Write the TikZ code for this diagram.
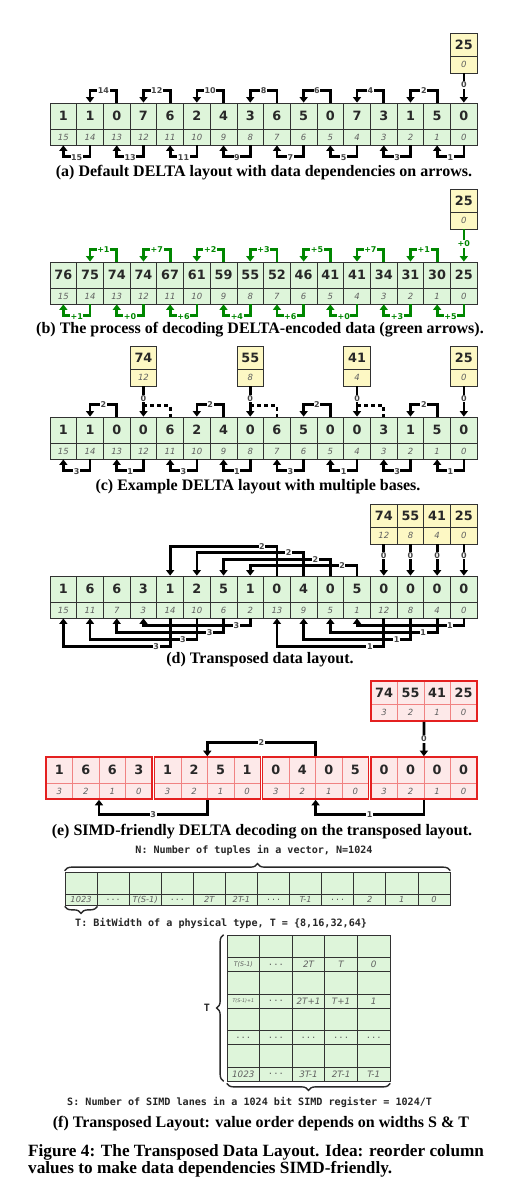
\documentclass[tikz,border=0pt]{standalone}
\usepackage{fontspec}
\usetikzlibrary{arrows.meta,decorations.pathreplacing}
\setmainfont{Liberation Serif}
\newfontfamily\fsans{DejaVu Sans}[ItalicFont={DejaVu Sans Oblique},BoldFont={DejaVu Sans Bold}]
\newfontfamily\fmono{DejaVu Sans Mono}[BoldFont={DejaVu Sans Mono Bold}]
\definecolor{cgreen}{RGB}{222,245,218}
\definecolor{cyellow}{RGB}{253,248,196}
\definecolor{cpink}{RGB}{253,233,233}
\definecolor{cred}{RGB}{228,32,32}
\definecolor{credl}{RGB}{240,130,130}
\definecolor{cborder}{RGB}{50,50,50}
\definecolor{agreen}{RGB}{0,135,0}
\definecolor{tgray}{RGB}{95,95,95}
\definecolor{lgray}{RGB}{40,40,40}
\definecolor{labgray}{RGB}{70,70,70}
\newcommand\Dots{{\fmono\upshape ...}}
\newcommand\TSa{{\fontsize{6.3}{7}\selectfont T(S-1)}}
\newcommand\TSb{{\fontsize{4.8}{6}\selectfont T(S-1)+1}}
\tikzset{
 cellbase/.style={draw=cborder, line width=0.8pt, inner sep=0pt, minimum width=26.7pt},
 vc/.style={cellbase, fill=cgreen, minimum height=26pt, font=\fsans\bfseries\fontsize{12.8}{14}\selectfont, text=lgray},
 ic/.style={cellbase, fill=cgreen, minimum height=16pt, font=\fsans\itshape\fontsize{8.5}{10}\selectfont, text=tgray},
 bv/.style={vc, fill=cyellow, minimum height=23pt},
 bi/.style={ic, fill=cyellow, minimum height=17pt},
 rv/.style={vc, draw=credl, fill=cpink, minimum width=26.5pt, line width=0.6pt},
 ri/.style={ic, draw=credl, fill=cpink, minimum width=26.5pt, line width=0.6pt},
 grp/.style={draw=cred, line width=1.6pt, minimum width=106pt, minimum height=42pt, inner sep=0pt},
 arr/.style={line width=2.7pt, draw=black, -{Triangle[length=5.5pt,width=8pt]}},
 garr/.style={arr, draw=agreen},
 dsh/.style={line width=2.7pt, draw=black, dash pattern=on 4pt off 3pt},
 lab/.style={fill=white, inner sep=0.6pt, font=\fsans\bfseries\fontsize{8}{9}\selectfont, text=labgray},
 blab/.style={lab, yshift=-1.5pt},
 glab/.style={lab, text=agreen},
 gblab/.style={glab, yshift=-1.5pt},
 captx/.style={font=\bfseries\fontsize{16}{18}\selectfont, inner sep=0pt},
 figcap/.style={font=\bfseries\fontsize{17.2}{19}\selectfont, inner sep=0pt, anchor=west},
 fe/.style={draw=cborder, line width=0.7pt, fill=cgreen, inner sep=0pt, minimum width=32.08pt, minimum height=22pt},
 fl/.style={fe, minimum height=11pt, font=\fsans\itshape\fontsize{8.3}{9}\selectfont, text=tgray},
 ge/.style={fe, minimum width=32.6pt, minimum height=22.5pt},
 gl/.style={ge, minimum height=14pt, font=\fsans\itshape\fontsize{8.8}{10}\selectfont, text=tgray},
 brc/.style={decorate, decoration={brace, amplitude=7pt}, line width=1.4pt, draw=lgray},
 mtxt/.style={font=\fmono\bfseries\fontsize{10.1}{12}\selectfont, text=black!85, inner sep=0pt},
}
\newcommand\MkArr[4]{%
 \foreach \vx [count=\px from 0] in {#3} {\node[vc] (#1v\px) at ({50+26.7*(\px+0.5)},{#2+13}) {\vx};}
 \foreach \vx [count=\px from 0] in {#4} {\node[ic] (#1i\px) at ({50+26.7*(\px+0.5)},{#2+34}) {\vx};}
}
\newcommand\MkBase[5]{%
 \node[bv] (#1) at ({50+26.7*(#2+0.5)},{#3+11.5}) {#4};
 \node[bi] (#1-i) at ({50+26.7*(#2+0.5)},{#3+31.5}) {#5};
}
\newcommand\MkGrp[2]{%
 \foreach \vx [count=\jx from 0] in {#2} {\node[rv] (e#1v\jx) at ({46+108.3*(#1-1)+26.5*(\jx+0.5)},770) {\vx};}
 \foreach \vx [count=\jx from 0] in {3,2,1,0} {\node[ri] (e#1i\jx) at ({46+108.3*(#1-1)+26.5*(\jx+0.5)},791) {\vx};}
 \node[grp] (eg#1) at ({46+108.3*(#1-1)+53},778) {};
}
\begin{document}
\begin{tikzpicture}[x=1pt,y=-1pt]
\fill[white] (0,0) rectangle (507,1194);
\useasboundingbox (0,0) rectangle (507,1194);

% ---------------- (a)
\MkBase{ab}{15}{33}{25}{0}
\MkArr{a}{103}{1,1,0,7,6,2,4,3,6,5,0,7,3,1,5,0}{15,14,13,12,11,10,9,8,7,6,5,4,3,2,1,0}
\foreach \px in {2,4,...,14} {
  \pgfmathtruncatemacro\pq{\px-1}
  \pgfmathtruncatemacro\lb{16-\px}
  \draw[arr] (av\px.north) -- ++(0,-12) -| node[lab,pos=0.25]{\lb} (av\pq.north);
}
\foreach \px in {1,3,...,15} {
  \pgfmathtruncatemacro\pq{\px-1}
  \pgfmathtruncatemacro\lb{16-\px}
  \draw[arr] (ai\px.south) -- ++(0,11) -| node[blab,pos=0.25]{\lb} (ai\pq.south);
}
\draw[arr] (ab-i.south) -- node[lab,pos=0.4]{0} (av15.north);
\node[captx] (capa) at (264,173) {(a) Default DELTA layout with data dependencies on arrows.};

% ---------------- (b)
\MkBase{bb}{15}{189}{25}{0}
\MkArr{b}{262}{76,75,74,74,67,61,59,55,52,46,41,41,34,31,30,25}{15,14,13,12,11,10,9,8,7,6,5,4,3,2,1,0}
\foreach \px/\lb in {2/+1,4/+7,6/+2,8/+3,10/+5,12/+7,14/+1} {
  \pgfmathtruncatemacro\pq{\px-1}
  \draw[garr] (bv\px.north) -- ++(0,-12) -| node[glab,pos=0.25]{\lb} (bv\pq.north);
}
\foreach \px/\lb in {1/+1,3/+0,5/+6,7/+4,9/+6,11/+0,13/+3,15/+5} {
  \pgfmathtruncatemacro\pq{\px-1}
  \draw[garr] (bi\px.south) -- ++(0,11) -| node[gblab,pos=0.25]{\lb} (bi\pq.south);
}
\draw[garr] (bb-i.south) -- node[glab,pos=0.45]{+0} (bv15.north);
\node[captx] (capb) at (260,330) {(b) The process of decoding DELTA-encoded data (green arrows).};

% ---------------- (c)
\MkBase{cb3}{3}{346}{74}{12}
\MkBase{cb7}{7}{346}{55}{8}
\MkBase{cb11}{11}{346}{41}{4}
\MkBase{cb15}{15}{346}{25}{0}
\MkArr{c}{417}{1,1,0,0,6,2,4,0,6,5,0,0,3,1,5,0}{15,14,13,12,11,10,9,8,7,6,5,4,3,2,1,0}
\foreach \px in {2,6,10,14} {
  \pgfmathtruncatemacro\pq{\px-1}
  \draw[arr] (cv\px.north) -- ++(0,-12) -| node[lab,pos=0.25]{2} (cv\pq.north);
}
\foreach \px in {3,7,11} {
  \pgfmathtruncatemacro\pq{\px+1}
  \draw[dsh] (cv\px.north) ++(0,-11) -| (cv\pq.north);
}
\foreach \px in {3,7,11,15} {
  \draw[arr] (cb\px-i.south) -- node[lab,pos=0.4]{0} (cv\px.north);
}
\foreach \px/\lb in {1/3,3/1,5/3,7/1,9/3,11/1,13/3,15/1} {
  \pgfmathtruncatemacro\pq{\px-1}
  \draw[arr] (ci\px.south) -- ++(0,11) -| node[blab,pos=0.25]{\lb} (ci\pq.south);
}
\node[captx] (capc) at (258,487) {(c) Example DELTA layout with multiple bases.};

% ---------------- (d)
\MkBase{db12}{12}{504}{74}{12}
\MkBase{db13}{13}{504}{55}{8}
\MkBase{db14}{14}{504}{41}{4}
\MkBase{db15}{15}{504}{25}{0}
\MkArr{d}{576}{1,6,6,3,1,2,5,1,0,4,0,5,0,0,0,0}{15,11,7,3,14,10,6,2,13,9,5,1,12,8,4,0}
\foreach \px/\hx in {8/29,9/23,10/16,11/10} {
  \pgfmathtruncatemacro\pq{\px-4}
  \draw[arr] (dv\px.north) -- ++(0,-\hx) -| node[lab,pos=0.07]{2} (dv\pq.north);
}
\foreach \px/\hx/\lb in {4/28/3,5/21/3,6/14/3,7/7/3,12/28/1,13/21/1,14/14/1,15/7/1} {
  \pgfmathtruncatemacro\pq{\px-4}
  \draw[arr] (di\px.south) -- ++(0,\hx) -| node[lab,pos=0.065]{\lb} (di\pq.south);
}
\foreach \px in {12,13,14,15} {
  \draw[arr] (db\px-i.south) -- node[lab,pos=0.35]{0} (dv\px.north);
}
\node[captx] (capd) at (260,660) {(d) Transposed data layout.};

% ---------------- (e)
\foreach \vx [count=\jx from 0] in {74,55,41,25} {\node[rv, minimum height=23pt] (ebv\jx) at ({370.9+26.5*(\jx+0.5)},692.5) {\vx};}
\foreach \vx [count=\jx from 0] in {3,2,1,0} {\node[ri, minimum height=17pt] (ebi\jx) at ({370.9+26.5*(\jx+0.5)},712.5) {\vx};}
\node[grp, minimum height=40pt] (eb) at (423.9,701) {};
\MkGrp{1}{1,6,6,3}
\MkGrp{2}{1,2,5,1}
\MkGrp{3}{0,4,0,5}
\MkGrp{4}{0,0,0,0}
\draw[arr] (eb.south) -- node[lab]{0} (eg4.north);
\draw[arr] (eg3.north) -- ++(0,-14) -| node[lab,pos=0.25]{2} (eg2.north);
\draw[arr] (eg2.south) -- ++(0,15) -| node[lab,pos=0.25]{3} (eg1.south);
\draw[arr] (eg4.south) -- ++(0,15) -| node[lab,pos=0.25]{1} (eg3.south);
\node[captx] (cape) at (262,832) {(e) SIMD-friendly DELTA decoding on the transposed layout.};

% ---------------- (f)
\node[mtxt] (ntxt) at (254,850) {N: Number of tuples in a vector, N=1024};
\foreach \lb [count=\px from 0] in {1023,\Dots,T(S-1),\Dots,2T,2T-1,\Dots,T-1,\Dots,2,1,0} {
  \node[fe] (fe\px) at ({65+32.08*(\px+0.5)},883) {};
  \node[fl] (fl\px) at ({65+32.08*(\px+0.5)},899.5) {\lb};
}
\draw[brc] ([yshift=1pt]fe0.north west) -- ([yshift=1pt]fe11.north east);
\draw[brc] ([yshift=-1pt]fl0.south east) -- ([yshift=-1pt]fl0.south west);
\node[mtxt, anchor=west] (ttxt) at (75,923) {T: BitWidth of a physical type, T = \{8,16,32,64\}};

\foreach \lb [count=\cx from 0] in {\TSa,\Dots,2T,T,0} {
  \node[ge] (g0e\cx) at ({227+32.6*(\cx+0.5)},946.25) {};
  \node[gl] (g0l\cx) at ({227+32.6*(\cx+0.5)},964.5) {\lb};
}
\foreach \lb [count=\cx from 0] in {\TSb,\Dots,2T+1,T+1,1} {
  \node[ge] (g1e\cx) at ({227+32.6*(\cx+0.5)},982.75) {};
  \node[gl] (g1l\cx) at ({227+32.6*(\cx+0.5)},1001) {\lb};
}
\foreach \lb [count=\cx from 0] in {\Dots,\Dots,\Dots,\Dots,\Dots} {
  \node[ge] (g2e\cx) at ({227+32.6*(\cx+0.5)},1019.25) {};
  \node[gl] (g2l\cx) at ({227+32.6*(\cx+0.5)},1037.5) {\lb};
}
\foreach \lb [count=\cx from 0] in {1023,\Dots,3T-1,2T-1,T-1} {
  \node[ge] (g3e\cx) at ({227+32.6*(\cx+0.5)},1055.75) {};
  \node[gl] (g3l\cx) at ({227+32.6*(\cx+0.5)},1074) {\lb};
}
\draw[brc] ([xshift=-3pt]g3l0.south west) -- ([xshift=-3pt]g0e0.north west);
\node[mtxt] (tlab) at (207,1008) {T};
\draw[brc] ([yshift=-2pt]g3l4.south east) -- ([yshift=-2pt]g3l0.south west);
\node[mtxt, anchor=west] (stxt) at (67,1102) {S: Number of SIMD lanes in a 1024 bit SIMD register = 1024/T};
\node[captx] (capf) at (261,1124) {(f) Transposed Layout: value order depends on widths S \& T};

\node[figcap] (fc1) at (28,1152) {Figure 4: The Transposed Data Layout. Idea: reorder column};
\node[figcap] (fc2) at (28,1169) {values to make data dependencies SIMD-friendly.};
\end{tikzpicture}
\end{document}
